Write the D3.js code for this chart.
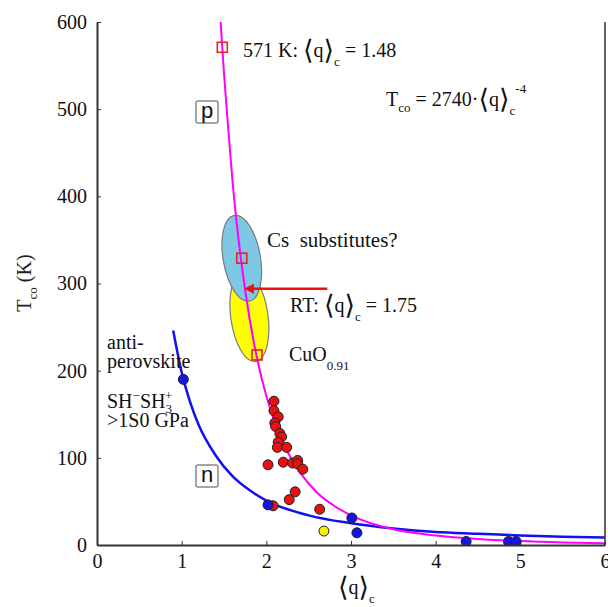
<!DOCTYPE html>
<html>
<head>
<meta charset="utf-8">
<script src="https://cdn.jsdelivr.net/npm/d3@7"></script>
<style>
  html, body { margin: 0; padding: 0; background: #fff; }
  svg { display: block; font-family: "Liberation Serif", "Times New Roman", serif; }
  svg text { white-space: pre; }
  .axis text { font-size: 20px; fill: #111; font-family: "Liberation Serif", serif; }
  .axis path, .axis line { stroke: #333; }
</style>
</head>
<body>
<svg id="chart" width="608" height="607"></svg>
<script>
// axis ticks
var qTicks = [0, 1, 2, 3, 4, 5, 6],
    tTicks = [0, 100, 200, 300, 400, 500, 600];

// p-type fit curve (T = 2740 <q>^-4)
var pCurveQ = [1.46, 1.5, 1.55, 1.6, 1.7, 1.8, 1.9, 2.0, 2.1, 2.2, 2.4, 2.6, 2.8, 3.0, 3.5, 4.0, 4.5, 5.0, 5.5, 6.0],
    pCurveT = [600, 541, 478, 418, 328, 261, 210, 171, 141, 117, 83, 60, 45, 34, 18, 11, 7, 4.5, 3, 2.1];

// n-type / anti-perovskite curve
var nCurveQ = [0.9, 1.0, 1.1, 1.2, 1.4, 1.6, 1.8, 2.0, 2.5, 3.0, 3.5, 4.0, 4.5, 5.0, 5.5, 6.0],
    nCurveT = [246, 198, 164, 138, 103, 79, 63, 51, 34, 25, 19, 15, 13, 11, 9.5, 8.5];

// red points (cuprates)
var redQ = [2.09, 2.09, 2.14, 2.10, 2.11, 2.16, 2.18, 2.14, 2.13, 2.24, 2.02, 2.20, 2.31, 2.37, 2.37, 2.43, 2.34, 2.27, 2.08, 2.63],
    redT = [165, 154, 147, 140, 136, 128, 124, 118, 112, 112, 92, 95, 94, 97, 93, 87, 61, 52, 45, 41];

// blue points
var blueQ = [1.02, 2.02, 3.01, 3.07, 4.36, 4.86, 4.95],
    blueT = [190, 46, 31, 14, 4, 4, 4];

// yellow point
var yellowQ = [2.68],
    yellowT = [16];

// open red squares on the p curve
var markQ = [1.48, 1.71, 1.89],
    markT = [571, 329, 218];

// ellipses: centre and half ranges
var ellipseNames = ['CuO', 'Cs'],
    ellipseQ = [1.80, 1.71],
    ellipseT = [262, 329],
    ellipseDQ = [0.22, 0.22],
    ellipseDT = [52, 50];

// RT arrow
var arrowQ = [2.72, 1.77],
    arrowT = [294, 294];

var svg = d3.select('#chart'),
    mLeft = 97, mRight = 605, mTop = 22, mBottom = 545;

var x = d3.scaleLinear().domain([0, 6]).range([mLeft, mRight]),
    y = d3.scaleLinear().domain([0, 600]).range([mBottom, mTop]);

var defs = svg.append('defs');
defs.append('clipPath').attr('id', 'plot')
  .append('rect')
  .attr('x', mLeft).attr('y', mTop)
  .attr('width', mRight - mLeft).attr('height', mBottom - mTop);

defs.append('marker')
  .attr('id', 'arrow')
  .attr('viewBox', '0 0 10 10')
  .attr('refX', 1).attr('refY', 5)
  .attr('markerWidth', 4).attr('markerHeight', 4)
  .attr('orient', 'auto')
  .append('path')
  .attr('d', 'M0,0 L10,5 L0,10 z')
  .attr('fill', '#ee1111');

var plot = svg.append('g').attr('clip-path', 'url(#plot)');

// ellipses (yellow first, blue on top)
var ellipseFill = ['#ffff00', '#7ec8e6'];
ellipseNames.forEach(function(name, i) {
  var cx = x(ellipseQ[i]), cy = y(ellipseT[i]);
  plot.append('ellipse')
    .attr('cx', cx).attr('cy', cy)
    .attr('rx', x(ellipseQ[i] + ellipseDQ[i]) - cx)
    .attr('ry', cy - y(ellipseT[i] + ellipseDT[i]))
    .attr('transform', 'rotate(' + (i ? -10 : -8) + ',' + cx + ',' + cy + ')')
    .attr('fill', ellipseFill[i])
    .attr('stroke', '#7a7a7a')
    .attr('stroke-width', 1.2);
});

var line = d3.line()
  .x(function(d) { return x(d[0]); })
  .y(function(d) { return y(d[1]); })
  .curve(d3.curveMonotoneX);

plot.append('path')
  .datum(nCurveQ.map(function(q, i) { return [q, nCurveT[i]]; }))
  .attr('d', line)
  .attr('fill', 'none')
  .attr('stroke', '#1010f0')
  .attr('stroke-width', 2.5);

plot.append('path')
  .datum(pCurveQ.map(function(q, i) { return [q, pCurveT[i]]; }))
  .attr('d', line)
  .attr('fill', 'none')
  .attr('stroke', '#ff00ff')
  .attr('stroke-width', 2);

function dots(qs, ts, fill) {
  plot.selectAll(null)
    .data(qs.map(function(q, i) { return [q, ts[i]]; }))
    .enter().append('circle')
    .attr('cx', function(d) { return x(d[0]); })
    .attr('cy', function(d) { return y(d[1]); })
    .attr('r', 5)
    .attr('fill', fill)
    .attr('stroke', '#222')
    .attr('stroke-width', 1);
}
dots(redQ, redT, '#e81010');
dots(yellowQ, yellowT, '#f5f000');
dots(blueQ, blueT, '#1414e6');

// open squares
plot.selectAll(null)
  .data(markQ.map(function(q, i) { return [q, markT[i]]; }))
  .enter().append('rect')
  .attr('x', function(d) { return x(d[0]) - 5; })
  .attr('y', function(d) { return y(d[1]) - 5; })
  .attr('width', 10).attr('height', 10)
  .attr('fill', 'none')
  .attr('stroke', '#ee2020')
  .attr('stroke-width', 1.6);

// RT arrow
svg.append('line')
  .attr('x1', x(arrowQ[0])).attr('y1', y(arrowT[0]))
  .attr('x2', x(arrowQ[1]) + 6).attr('y2', y(arrowT[1]))
  .attr('stroke', '#ee1111')
  .attr('stroke-width', 2.5)
  .attr('marker-end', 'url(#arrow)');

// axes
svg.append('g')
  .attr('class', 'axis')
  .attr('transform', 'translate(0,' + mBottom + ')')
  .call(d3.axisBottom(x).tickValues(qTicks).tickSize(-4).tickSizeOuter(0).tickPadding(9).tickFormat(d3.format('d')))
  .call(function(g) { g.select('.domain').attr('stroke-width', 2); });

svg.append('g')
  .attr('class', 'axis')
  .attr('transform', 'translate(' + mLeft + ',0)')
  .call(d3.axisLeft(y).tickValues(tTicks).tickSize(-4).tickSizeOuter(0).tickPadding(10))
  .call(function(g) { g.select('.domain').attr('stroke-width', 2); });

// right frame line
svg.append('line')
  .attr('x1', x(6)).attr('x2', x(6))
  .attr('y1', y(0)).attr('y2', y(600))
  .attr('stroke', '#333').attr('stroke-width', 1.5);

// ---- text helpers ----
function label(px, py, size) {
  return svg.append('text')
    .attr('x', px).attr('y', py)
    .style('font-size', (size || 20) + 'px')
    .attr('fill', '#111');
}
function bracketQ(t) {
  t.append('tspan').style('font-family', 'DejaVu Serif').style('font-size', '27px').attr('dy', 2).text('\u27E8');
  t.append('tspan').attr('dy', -2).text('q');
  t.append('tspan').style('font-family', 'DejaVu Serif').style('font-size', '27px').attr('dy', 2).text('\u27E9');
  t.append('tspan').style('font-size', '13px').attr('dy', 7).text('c');
  return t;
}

var t1 = label(243, 57);
t1.append('tspan').text('571 K: ');
bracketQ(t1);
t1.append('tspan').attr('dy', -9).text(' = 1.48');

var t2 = label(386, 106);
t2.append('tspan').text('T');
t2.append('tspan').style('font-size', '13px').attr('dy', 6).text('co');
t2.append('tspan').attr('dy', -6).text(' = 2740\u00B7');
bracketQ(t2);
t2.append('tspan').style('font-size', '13px').attr('dy', -22).text('-4');

label(267, 247, 21).text('Cs  substitutes?');

var t4 = label(290, 312);
t4.append('tspan').text('RT: ');
bracketQ(t4);
t4.append('tspan').attr('dy', -9).text(' = 1.75');

var t5 = label(289, 361);
t5.append('tspan').text('CuO');
t5.append('tspan').style('font-size', '13px').attr('dy', 9).text('0.91');

label(107, 349).text('anti-');
label(107, 368).text('perovskite');
var t6 = label(107, 408);
t6.append('tspan').text('SH');
t6.append('tspan').style('font-size', '13px').attr('dy', -8).text('\u2212');
t6.append('tspan').attr('dy', 8).text('SH');
t6.append('tspan').style('font-size', '13px').attr('dy', 5).text('3');
t6.append('tspan').style('font-size', '13px').attr('dx', -7).attr('dy', -13).text('+');
label(107, 427).text('>1S0 GPa');

// p / n boxes
[['p', 196, 101], ['n', 196, 465]].forEach(function(b) {
  svg.append('rect')
    .attr('x', b[1]).attr('y', b[2])
    .attr('width', 22).attr('height', 22)
    .attr('rx', 2)
    .attr('fill', '#fff')
    .attr('stroke', '#888')
    .attr('stroke-width', 1.5);
  svg.append('text')
    .attr('x', b[1] + 11).attr('y', b[2] + 17)
    .attr('text-anchor', 'middle')
    .style('font-family', 'Liberation Sans, Arial, sans-serif')
    .style('font-size', '22px')
    .attr('fill', '#111')
    .text(b[0]);
});

// axis titles
var xt = label(338, 594);
bracketQ(xt);

var yt = svg.append('text')
  .attr('transform', 'translate(31,283) rotate(-90)')
  .attr('text-anchor', 'middle')
  .style('font-size', '20px')
  .attr('fill', '#222');
yt.append('tspan').text('T');
yt.append('tspan').style('font-size', '13px').attr('dy', 6).text('co');
yt.append('tspan').attr('dy', -6).text(' (K)');
</script>
</body>
</html>
